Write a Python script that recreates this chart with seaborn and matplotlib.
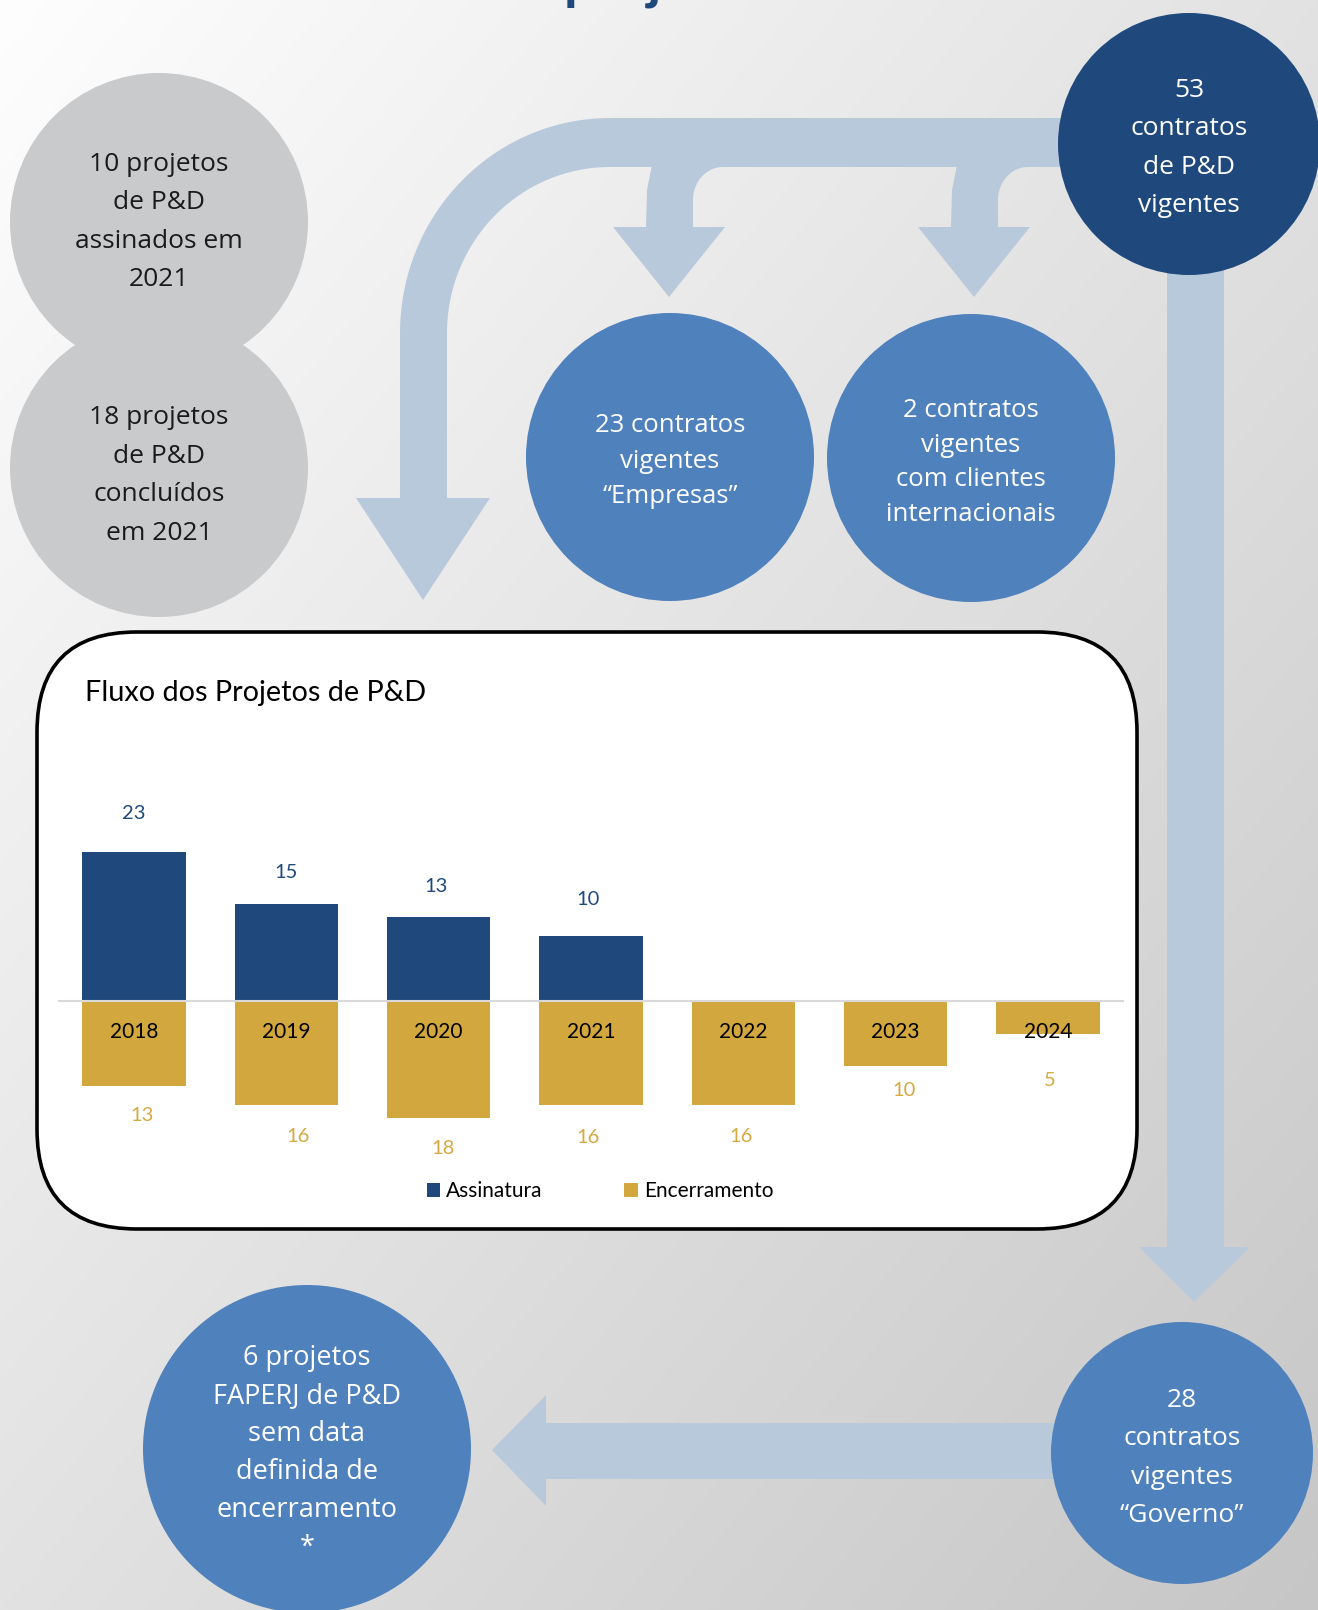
import numpy as np
import pandas as pd
import matplotlib
matplotlib.use('Agg')
import matplotlib.pyplot as plt
from matplotlib.patches import Circle, Polygon, FancyBboxPatch, Patch
import seaborn as sns

# dados do grafico
anos = ['2018', '2019', '2020', '2021', '2022', '2023', '2024']
assinatura = [23, 15, 13, 10, None, None, None]
encerramento = [13, 16, 18, 16, 16, 10, 5]
series = ['Assinatura', 'Encerramento']

# textos dos circulos
txt_cinza1 = ['10 projetos', 'de P&D', 'assinados em', '2021']
txt_cinza2 = ['18 projetos', 'de P&D', 'concluídos', 'em 2021']
txt_total = ['53', 'contratos', 'de P&D', 'vigentes']
txt_empresas = ['23 contratos', 'vigentes', '“Empresas”']
txt_intern = ['2 contratos', 'vigentes', 'com clientes', 'internacionais']
txt_governo = ['28', 'contratos', 'vigentes', '“Governo”']
txt_faperj = ['6 projetos', 'FAPERJ de P&D', 'sem data', 'definida de', 'encerramento', '*']

AZUL_ESC = '#1f497d'
AZUL = '#4f81bd'
CINZA = '#c9cacc'
SETA = '#b9c9dc'
OURO = '#d2a73d'
OURO_TXT = '#d6a942'

W, H = 1318, 1610
fig = plt.figure(figsize=(W / 100, H / 100), dpi=100)

# fundo em pixels
bg = fig.add_axes([0, 0, 1, 1])
bg.set_xlim(0, W)
bg.set_ylim(H, 0)
bg.axis('off')
yy, xx = np.mgrid[0:H, 0:W]
t = (xx / W + yy / H) / 2
g = (254 - 56 * t) / 255
bg.imshow(np.dstack([g, g, g]), extent=[0, W, H, 0], aspect='auto', zorder=0)

# titulo cortado no topo (so aparecem as descendentes)
bg.text(564, -2, 'projetos', fontsize=40, weight='bold', color=AZUL_ESC,
        family='Lato', va='baseline', ha='left')

# setas
ang = np.linspace(0, np.pi / 2, 40)
seta_curva = [(1100, 118)]
seta_curva += list(zip(610 - 210 * np.sin(ang), 333 - 215 * np.cos(ang)))
seta_curva += [(400, 498), (356, 498), (423, 600), (490, 498), (447, 498)]
seta_curva += list(zip(610 - 163 * np.sin(ang[::-1]), 333 - 166 * np.cos(ang[::-1])))
seta_curva += [(1100, 167)]
bg.add_patch(Polygon(seta_curva, closed=True, fc=SETA, ec='none', zorder=1))


def ramo(xl, xr, hl, hr, tip):
    pts = [(xl + 6, 165), (xl + 1, 190), (xl, 227), (hl, 227), (tip, 297), (hr, 227), (xr, 227), (xr, 200)]
    pts += list(zip(xr + 30 - 30 * np.cos(ang), 200 - 33 * np.sin(ang)))
    pts += [(xr + 30, 165)]
    bg.add_patch(Polygon(pts, closed=True, fc=SETA, ec='none', zorder=1))


ramo(646, 693, 613, 725, 669)
ramo(951, 998, 918, 1030, 974)

bg.add_patch(Polygon([(1167, 250), (1224, 250), (1224, 1247), (1250, 1247), (1194, 1302),
                      (1139, 1247), (1167, 1247)], closed=True, fc=SETA, ec='none', zorder=1))
bg.add_patch(Polygon([(1100, 1423), (546, 1423), (546, 1395), (492, 1450), (546, 1506),
                      (546, 1479), (1100, 1479)], closed=True, fc=SETA, ec='none', zorder=1))


def bola(cx, cy, r, cor, linhas, y0, passo, cor_txt, tam):
    bg.add_patch(Circle((cx, cy), r, fc=cor, ec='none', zorder=2))
    for k, s in enumerate(linhas):
        bg.text(cx, y0 + k * passo, s, ha='center', va='baseline', color=cor_txt,
                fontsize=tam, family='Open Sans', zorder=3)


bola(159, 222, 149, CINZA, [], 0, 0, 'k', 19)
bola(159, 468, 149, CINZA, [], 0, 0, 'k', 19)
for k, s in enumerate(txt_cinza1):
    bg.text(159, 171 + k * 38.3, s, ha='center', va='baseline', color='#1a1a1a',
            fontsize=19, family='Open Sans', zorder=3)
for k, s in enumerate(txt_cinza2):
    bg.text(159, 424 + k * 38.7, s, ha='center', va='baseline', color='#1a1a1a',
            fontsize=19, family='Open Sans', zorder=3)

bola(1189, 144, 131, AZUL_ESC, txt_total, 97, 38.3, 'white', 19)
bola(670, 457, 144, AZUL, txt_empresas, 432, 35.5, 'white', 18.5)
bola(971, 458, 144, AZUL, txt_intern, 417, 34.7, 'white', 18.5)
bola(1182, 1453, 131, AZUL, txt_governo, 1407, 38.3, 'white', 19)
bola(307, 1449, 164, AZUL, txt_faperj, 1365, 38, 'white', 19.5)

# caixa do grafico
bg.add_patch(FancyBboxPatch((37, 632), 1100, 597, boxstyle='round,pad=0,rounding_size=100',
                            fc='white', ec='black', lw=2.6, zorder=2))
bg.text(85, 693, 'Fluxo dos Projetos de P&D', va='center', ha='left', fontsize=20.8,
        family='Lato', color='black', zorder=3)

# grafico de barras
linhas = []
for a, v in zip(anos, assinatura):
    if v is not None:
        linhas.append((a, 'Assinatura', v))
for a, v in zip(anos, encerramento):
    linhas.append((a, 'Encerramento', -v))
df = pd.DataFrame(linhas, columns=['ano', 'serie', 'valor'])

PX = 6.5  # pixels por unidade
ax = fig.add_axes([58 / W, 1 - 1140 / H, 1066 / W, 380 / H])
ax.patch.set_alpha(0)
sns.barplot(data=df, x='ano', y='valor', hue='serie', order=anos, hue_order=series,
            palette=[AZUL_ESC, OURO], saturation=1, dodge=False, width=0.68, linewidth=0,
            errorbar=None, legend=False, ax=ax)
ax.set_xlim(-0.5, 6.5)
ax.set_ylim(-(1140 - 1001) / PX, (1001 - 760) / PX)
ax.axhline(0, color='#d9d9d9', lw=1.5, zorder=5)
sns.despine(ax=ax, left=True, bottom=True)
ax.set(xlabel='', ylabel='', xticks=[], yticks=[])

off_az = [38, 31, 30, 37]
dx_az = [0, 0, -3, -3]
for i, v in enumerate(assinatura):
    if v is not None:
        ax.text(i + dx_az[i] / 152, v + off_az[i] / PX, str(v), ha='center', va='center',
                color=AZUL_ESC, fontsize=14.5, family='Lato')

off_en = [30, 31, 30, 32, 31, 24, 47]
dx_en = [8, 12, 4, -3, -2, 8, 2]
for i, v in enumerate(encerramento):
    ax.text(i + dx_en[i] / 152, -v - off_en[i] / PX, str(v), ha='center', va='center',
            color=OURO_TXT, fontsize=14.5, family='Lato')

for i, a in enumerate(anos):
    ax.text(i, -31 / PX, a, ha='center', va='center', color='black', fontsize=15,
            family='Lato', zorder=6)

fig.legend([Patch(fc=AZUL_ESC), Patch(fc=OURO)], series, loc='center',
           bbox_to_anchor=(600 / W, 1 - 1191 / H), ncol=2, frameon=False,
           handlelength=0.65, handleheight=0.65, handletextpad=0.3, columnspacing=3.9,
           prop={'family': 'Lato', 'size': 15})

fig.savefig('out.png', dpi=100)
